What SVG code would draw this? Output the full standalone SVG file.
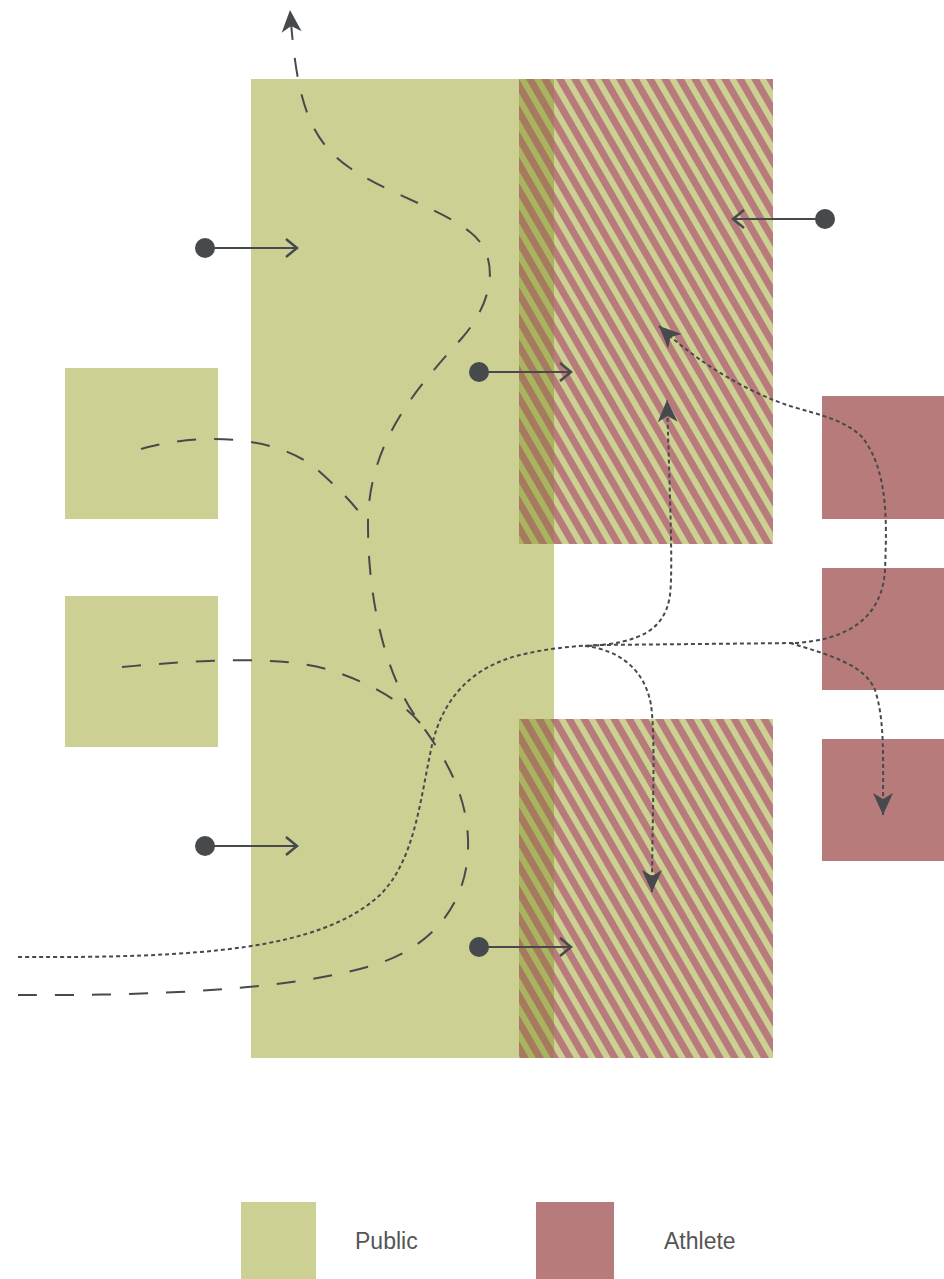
<svg xmlns="http://www.w3.org/2000/svg" width="944" height="1279" viewBox="0 0 944 1279">
<style>
.pub{fill:#cdd093}
.ath{fill:#b87b7b}
.dash{fill:none;stroke:#464a4c;stroke-width:2;stroke-dasharray:19 18}
.dot{fill:none;stroke:#464a4c;stroke-width:2;stroke-dasharray:4 3}
.arr{fill:none;stroke:#464a4c;stroke-width:2}
.pt{fill:#464a4c}
.lbl{font-family:"Liberation Sans",Arial,sans-serif;font-size:23px;fill:#555}
</style>
<defs>
<pattern id="hatch" patternUnits="userSpaceOnUse" width="13" height="13" patternTransform="rotate(-30)">
<rect width="13" height="13" fill="#cdd093"/>
<rect width="7" height="13" fill="#b87b7b"/>
</pattern>
<pattern id="hatchDark" patternUnits="userSpaceOnUse" width="13" height="13" patternTransform="rotate(-30)">
<rect width="13" height="13" fill="#a9b360"/>
<rect width="7" height="13" fill="#a67a5e"/>
</pattern>
<marker id="head" markerUnits="userSpaceOnUse" viewBox="-23 -11 24 22" refX="0" refY="0" markerWidth="24" markerHeight="22" orient="auto">
<path d="M0,0 L-22,-10 L-16,0 L-22,10 Z" fill="#464a4c"/>
</marker>
<marker id="chev" markerUnits="userSpaceOnUse" viewBox="-14 -12 16 24" refX="0" refY="0" markerWidth="16" markerHeight="24" orient="auto">
<path d="M-11,-9 L0,0 L-11,9" fill="none" stroke="#464a4c" stroke-width="2.5"/>
</marker>
</defs>

<g id="public-main"><rect class="pub" x="251" y="79" width="303" height="979"/></g>
<g id="shared-top">
<rect x="519" y="79" width="254" height="465" fill="url(#hatch)"/>
<rect x="519" y="79" width="35" height="465" fill="url(#hatchDark)"/>
</g>
<g id="shared-bottom">
<rect x="519" y="719" width="254" height="339" fill="url(#hatch)"/>
<rect x="519" y="719" width="35" height="339" fill="url(#hatchDark)"/>
</g>
<g id="public-square-1"><rect class="pub" x="65" y="368" width="153" height="151"/></g>
<g id="public-square-2"><rect class="pub" x="65" y="596" width="153" height="151"/></g>
<g id="athlete-square-1"><rect class="ath" x="822" y="396" width="122" height="123"/></g>
<g id="athlete-square-2"><rect class="ath" x="822" y="568" width="122" height="122"/></g>
<g id="athlete-square-3"><rect class="ath" x="822" y="739" width="122" height="122"/></g>

<g id="connectors">
<path class="dash" d="M18,995 C150,996 300,990 380,963 C440,942 470,895 468,840 C467,790 440,750 418,720 C385,675 368,600 368,524 C368,440 420,385 462,338 C495,300 500,255 470,232 C440,208 390,195 350,168 C305,138 296,90 290,10" marker-end="url(#head)"/>
<path class="dash" d="M141,449 C200,432 280,435 320,472 C340,490 355,505 368,524"/>
<path class="dash" d="M122,667 C200,660 280,655 330,670 C370,683 400,700 420,723"/>
<path class="dot" d="M18,957 C200,958 320,950 380,895 C415,860 420,800 432,745 C445,690 480,665 520,655 C545,649 570,646 600,645 L795,643"/>
<path class="dot" d="M588,646 C640,643 665,630 670,595 C673,570 670,500 667,400" marker-end="url(#head)"/>
<path class="dot" d="M585,646 C620,650 645,670 651,705 C656,740 652,820 652,892" marker-end="url(#head)"/>
<path class="dot" d="M795,643 C845,640 882,620 885,570 C887,520 888,470 862,437 C845,420 820,415 790,406 C750,393 700,365 659,326" marker-end="url(#head)"/>
<path class="dot" d="M790,643 C830,655 865,665 875,690 C885,720 883,760 883,815" marker-end="url(#head)"/>

<circle class="pt" cx="205" cy="248" r="10"/>
<path class="arr" d="M205,248 H297" marker-end="url(#chev)"/>
<circle class="pt" cx="825" cy="219" r="10"/>
<path class="arr" d="M825,219 H733" marker-end="url(#chev)"/>
<circle class="pt" cx="479" cy="372" r="10"/>
<path class="arr" d="M479,372 H571" marker-end="url(#chev)"/>
<circle class="pt" cx="205" cy="846" r="10"/>
<path class="arr" d="M205,846 H297" marker-end="url(#chev)"/>
<circle class="pt" cx="479" cy="947" r="10"/>
<path class="arr" d="M479,947 H571" marker-end="url(#chev)"/>
</g>

<g id="legend-public">
<rect class="pub" x="241" y="1202" width="75" height="77"/>
<text class="lbl" x="355" y="1249">Public</text>
</g>
<g id="legend-athlete">
<rect class="ath" x="536" y="1202" width="78" height="77"/>
<text class="lbl" x="664" y="1249">Athlete</text>
</g>
</svg>
